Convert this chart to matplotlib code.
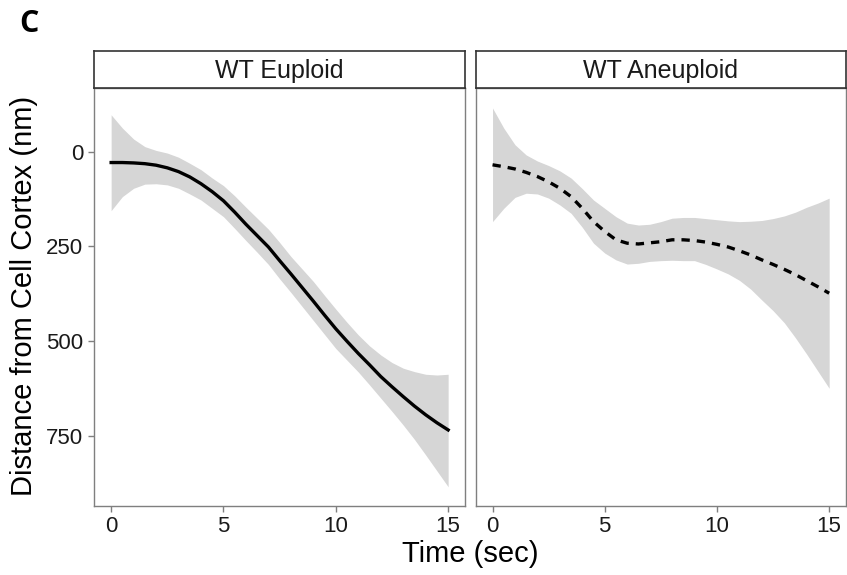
import numpy as np
import matplotlib
matplotlib.use("Agg")
import matplotlib.pyplot as plt

# ---- data ----
time_sec = [0, 0.5, 1, 1.5, 2, 2.5, 3, 3.5, 4, 4.5, 5, 5.5, 6, 6.5, 7, 7.5,
            8, 8.5, 9, 9.5, 10, 10.5, 11, 11.5, 12, 12.5, 13, 13.5, 14, 14.5, 15]

euploid_fit   = [29, 29, 30, 32, 36, 43, 53, 67, 85, 106, 130, 160, 192, 222, 252, 288,
                 323, 359, 395, 432, 468, 501, 533, 563, 594, 621, 647, 672, 695, 716, 735]
euploid_upper = [-97, -62, -33, -13, -3, 4, 15, 31, 48, 70, 90, 117, 147, 176, 205, 240,
                 277, 310, 343, 380, 416, 451, 484, 513, 537, 557, 572, 581, 588, 590, 588]
euploid_lower = [156, 119, 97, 86, 85, 88, 97, 112, 128, 150, 172, 203, 235, 266, 298, 336,
                 372, 409, 446, 483, 520, 551, 582, 616, 651, 686, 722, 760, 801, 843, 885]

aneuploid_fit   = [35, 40, 46, 55, 66, 80, 97, 119, 150, 185, 211, 233, 242, 244, 241, 238,
                   233, 233, 235, 239, 245, 252, 262, 273, 286, 298, 311, 325, 341, 357, 374]
aneuploid_upper = [-115, -62, -18, 9, 25, 37, 51, 70, 98, 128, 150, 172, 189, 194, 192, 185,
                   176, 174, 174, 177, 180, 183, 185, 184, 182, 177, 170, 160, 147, 136, 123]
aneuploid_lower = [185, 150, 121, 110, 112, 123, 141, 163, 200, 242, 268, 286, 297, 295, 290, 288,
                   287, 288, 288, 298, 310, 323, 340, 363, 392, 420, 452, 492, 535, 580, 625]

panel_titles = ["WT Euploid", "WT Aneuploid"]
x_ticks = [0, 5, 10, 15]
y_ticks = [0, 250, 500, 750]

# ---- figure ----
W, H = 847, 575
fig = plt.figure(figsize=(W / 100, H / 100), dpi=100)
plt.rcParams['font.family'] = ['Liberation Sans', 'DejaVu Sans']

def fx(px):
    return px / W

def fy(py):
    return 1 - py / H

panel_top, panel_bot = 88.3, 505.7
strip_top = 50.7
panels_px = [(94.3, 465.0), (475.7, 846.0)]
series = [
    (euploid_fit, euploid_upper, euploid_lower, '-'),
    (aneuploid_fit, aneuploid_upper, aneuploid_lower, '--'),
]
frame_col = '#7f7f7f'
strip_col = '#333333'
text_col = '#1a1a1a'

for i, ((l, r), (fit, up, lo, ls)) in enumerate(zip(panels_px, series)):
    ax = fig.add_axes([fx(l), fy(panel_bot), fx(r) - fx(l), fy(panel_top) - fy(panel_bot)])
    ax.fill_between(time_sec, up, lo, color='#d6d6d6', linewidth=0)
    if ls == '-':
        ax.plot(time_sec, fit, color='black', lw=2.4, solid_joinstyle='round')
    else:
        ax.plot(time_sec, fit, color='black', lw=2.4, linestyle=(0, (2.5, 2.1)))
    ax.set_xlim(-0.75, 15.75)
    ax.set_ylim(935, -167)
    ax.set_xticks(x_ticks)
    ax.set_xticklabels([str(t) for t in x_ticks], fontsize=16, color=text_col)
    ax.set_yticks(y_ticks)
    if i == 0:
        ax.set_yticklabels([str(t) for t in y_ticks], fontsize=16, color=text_col)
        ax.tick_params(axis='y', length=4, width=1, color=frame_col, pad=4)
    else:
        ax.tick_params(axis='y', length=0, labelleft=False)
    ax.tick_params(axis='x', length=4, width=1, color=frame_col, pad=3.5)
    for s in ax.spines.values():
        s.set_color(frame_col)
        s.set_linewidth(1.0)

    # strip
    sax = fig.add_axes([fx(l), fy(panel_top), fx(r) - fx(l), fy(strip_top) - fy(panel_top)])
    sax.set_xticks([])
    sax.set_yticks([])
    for s in sax.spines.values():
        s.set_color(strip_col)
        s.set_linewidth(1.2)
    fig.text((fx(l) + fx(r)) / 2, fy(77.7), panel_titles[i], ha='center', va='baseline',
             fontsize=18, color=text_col)

fig.text(fx(470), fy(561.5), "Time (sec)", ha='center', va='baseline', fontsize=21, color='black')
fig.text(fx(24), fy(296), "Distance from Cell Cortex (nm)", ha='center', va='center',
         rotation=90, fontsize=21, color='black')
fig.text(fx(19), fy(32), "C", ha='left', va='baseline', fontsize=22, fontweight='bold',
         family=['Open Sans', 'DejaVu Sans'], color='black')

fig.savefig("out.png", dpi=100, facecolor='white')
